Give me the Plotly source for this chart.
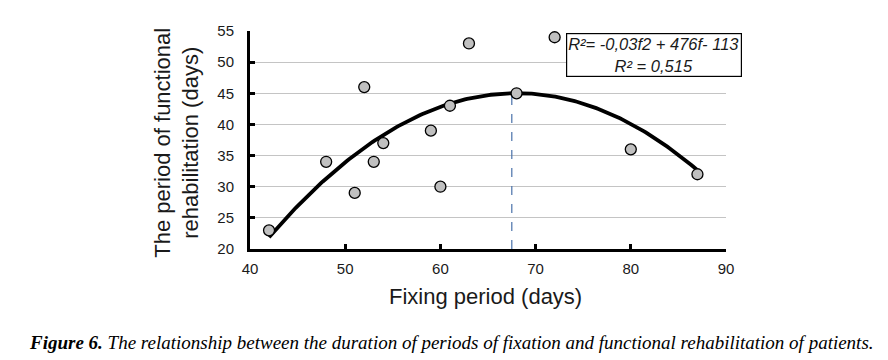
import numpy as np
import plotly.graph_objects as go

fixing_days = [42, 48, 51, 52, 53, 54, 59, 60, 61, 63, 68, 72, 80, 87]
rehab_days = [23, 34, 29, 46, 34, 37, 39, 30, 43, 53, 45, 54, 36, 32]
peak_x = 67.5

coef = np.polyfit(fixing_days, rehab_days, 2)
xs = np.linspace(42, 87, 200)
ys = np.polyval(coef, xs)
peak_y = float(np.polyval(coef, peak_x))

fig = go.Figure()
fig.add_trace(go.Scatter(x=[peak_x, peak_x], y=[20, peak_y], mode="lines",
                         line=dict(color="#4a72aa", width=1.2, dash="dash"), showlegend=False))
fig.add_trace(go.Scatter(x=xs, y=ys, mode="lines", line=dict(color="black", width=3.8), showlegend=False))
fig.add_trace(go.Scatter(x=fixing_days, y=rehab_days, mode="markers",
                         marker=dict(size=11, color="#c0c0c0", line=dict(color="black", width=1.3)),
                         showlegend=False))

fig.update_layout(
    width=888, height=360,
    margin=dict(l=242, r=170, t=23, b=119),
    paper_bgcolor="white", plot_bgcolor="white",
    font=dict(family="Liberation Sans, Arial", color="#1a1a1a"),
    xaxis=dict(range=[40, 90], tickvals=[40, 50, 60, 70, 80, 90], showgrid=False,
               showline=True, linecolor="black", linewidth=3, ticks="inside", ticklen=5,
               tickwidth=3, tickcolor="black", tickfont=dict(size=15), zeroline=False,
               ticklabelstandoff=4),
    yaxis=dict(range=[20, 55], tickvals=[20, 25, 30, 35, 40, 45, 50, 55], showgrid=True,
               gridcolor="#c4c4c4", gridwidth=1, showline=True, linecolor="black", linewidth=3,
               ticks="inside", ticklen=5, tickwidth=3, tickcolor="black", tickfont=dict(size=15),
               zeroline=False, ticklabelstandoff=10),
)

fig.add_annotation(xref="paper", yref="paper", x=0.4937, y=-0.22, xanchor="center", yanchor="middle",
                   text="Fixing period (days)", showarrow=False,
                   font=dict(size=22, color="#1a1a1a"))
fig.add_annotation(xref="paper", yref="paper", x=-0.155, y=0.4885, xanchor="center", yanchor="middle",
                   text="The period of functional<br>rehabilitation (days)", showarrow=False,
                   textangle=-90, font=dict(size=22, color="#1a1a1a"))

fig.add_annotation(xref="paper", yref="paper", x=1.0336, y=0.9908, xanchor="right", yanchor="top",
                   text="<i>R²= -0,03f2 + 476f- 113</i><br><i>R² = 0,515</i>",
                   showarrow=False, align="center", font=dict(size=16.5, color="#1a1a1a"),
                   bordercolor="black", borderwidth=1.2, bgcolor="white", borderpad=1)

fig.add_annotation(xref="paper", yref="paper", x=-0.4685, y=-0.431, xanchor="left", yanchor="middle",
                   text="<b><i>Figure 6.</i></b><i> The relationship between the duration of periods of fixation and functional rehabilitation of patients.</i>",
                   showarrow=False, font=dict(family="Liberation Serif, Times New Roman", size=19, color="black"))

fig.write_html("out.html")
